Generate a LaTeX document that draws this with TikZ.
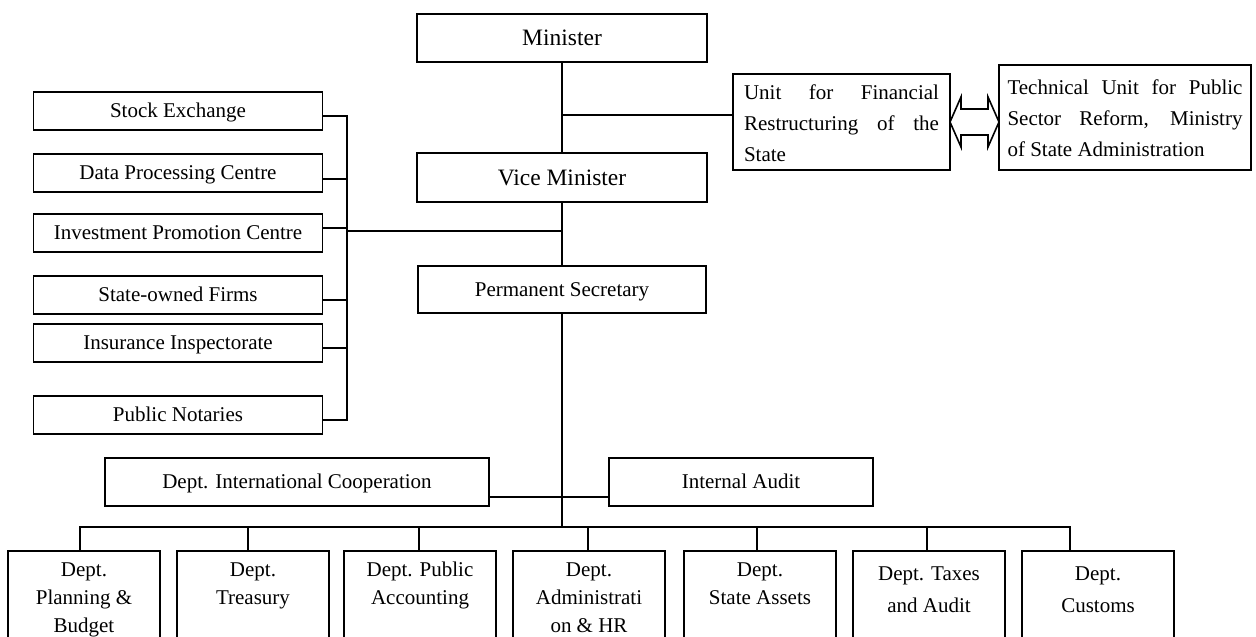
\documentclass[tikz,border=0pt]{standalone}
\usepackage{fontspec}
\setmainfont{Liberation Serif}
\usetikzlibrary{calc}
% multi-line department labels, top aligned
\newcommand\deptlines[2][28]{\parbox[t]{152pt}{\centering\fontsize{21}{#1}\selectfont #2}}
% justified paragraph of given width
\newcommand\justlines[2]{\parbox[t]{#1}{\hbadness=10000\fontsize{21}{31}\selectfont #2}}

\begin{document}
\begin{tikzpicture}[x=1pt,y=-1pt,
  every node/.style={inner sep=0pt,outer sep=0pt},
  box/.style={draw, line width=1.8pt, minimum height=48pt, text height=14.3pt, text depth=0.5pt,
    font=\fontsize{21}{25}\selectfont},
  bigbox/.style={box, text height=16pt, font=\fontsize{23.5}{28}\selectfont},
  sidebox/.style={box, minimum width=289pt, minimum height=38pt},
  parbox/.style={draw, line width=1.8pt, anchor=north west},
  dept/.style={draw, line width=1.8pt, anchor=north, text height=25pt, text depth=80pt},
  link/.style={line width=1.6pt, line cap=rect},
]
\useasboundingbox (0,0) rectangle (1256,637);

% central chain
\node[bigbox, minimum width=290pt] (min) at (562,38) {Minister};
\node[bigbox, minimum width=290pt, minimum height=49pt] (vice) at (562,177.5) {Vice Minister};
\node[box, minimum width=288pt, minimum height=47pt] (perm) at (562,289.5) {Permanent Secretary};

% restructuring units
\node[parbox, text height=25pt, text depth=71pt, inner xsep=11pt] (unit) at (733,74)
  {\justlines{195pt}{Unit for Financial\linebreak Restructuring of the\linebreak State}};
\node[parbox, text height=29pt, text depth=76pt, inner xsep=8.5pt] (tech) at (999,65)
  {\justlines{235pt}{Technical Unit for Public\linebreak Sector Reform, Ministry\linebreak of State Administration}};

% attached institutions
\node[sidebox] (s1) at (178,111) {Stock Exchange};
\node[sidebox] (s2) at (178,173) {Data Processing Centre};
\node[sidebox] (s3) at (178,233) {Investment Promotion Centre};
\node[sidebox] (s4) at (178,295) {State-owned Firms};
\node[sidebox] (s5) at (178,343) {Insurance Inspectorate};
\node[sidebox] (s6) at (178,415) {Public Notaries};

% staff units
\node[box, minimum width=384pt] (ic) at (297,482) {Dept. International Cooperation};
\node[box, minimum width=264pt] (audit) at (741,482) {Internal Audit};

% departments
\node[dept] (d1) at (84,551) {\deptlines{Dept.\\Planning \&\\Budget}};
\node[dept] (d2) at (253,551) {\deptlines{Dept.\\Treasury}};
\node[dept] (d3) at (420,551) {\deptlines{Dept. Public\\Accounting}};
\node[dept] (d4) at (589,551) {\deptlines{Dept.\\Administrati\\on \& HR}};
\node[dept] (d5) at (760,551) {\deptlines{Dept.\\State Assets}};
\node[dept, text height=29pt] (d6) at (929,551) {\deptlines[32]{Dept. Taxes\\and Audit}};
\node[dept, text height=29pt] (d7) at (1098,551) {\deptlines[32]{Dept.\\Customs}};

% spine
\coordinate (busy) at (0,527);
\draw[link] (min) -- (vice);
\draw[link] (vice) -- (perm);
\draw[link] (perm) -- (perm |- busy);

% link to the restructuring unit
\coordinate (u1) at ([yshift=7pt]unit.west);
\draw[link] (u1) -- (u1 -| min.south);

% two-way outline arrow between the units
\draw[line width=1.6pt, line join=miter] (unit.east) -- ++(11,-25) -- ++(0,12) -- ++(27,0)
  -- ++(0,-12) -- (tech.west |- unit.east) -- ++(-11,25) -- ++(0,-12) -- ++(-27,0)
  -- ++(0,12) -- cycle;

% left bracket of institutions
\coordinate (lbus) at (347,0);
\foreach \n/\dy in {s1/-5, s2/-6, s3/5, s4/-5, s5/-5, s6/-5} {
  \coordinate (e\n) at ([yshift=\dy pt]\n.east);
  \draw[link] (e\n) -- (e\n -| lbus);
}
\draw[link] (es1 -| lbus) -- (es6 -| lbus);
\coordinate (ljoin) at (347,231);
\draw[link] (ljoin) -- (ljoin -| min.south);

% staff units line
\coordinate (ia) at ([yshift=-15pt]ic.east);
\draw[link] (ia) -- (ia -| audit.west);

% department bus
\foreach \n/\dx in {d1/-4, d2/-5, d3/-1, d4/-1, d5/-3, d6/-2, d7/-28} {
  \coordinate (t\n) at ([xshift=\dx pt]\n.north);
  \draw[link] (t\n) -- (t\n |- busy);
}
\draw[link] (td1 |- busy) -- (td7 |- busy);
\end{tikzpicture}
\end{document}
